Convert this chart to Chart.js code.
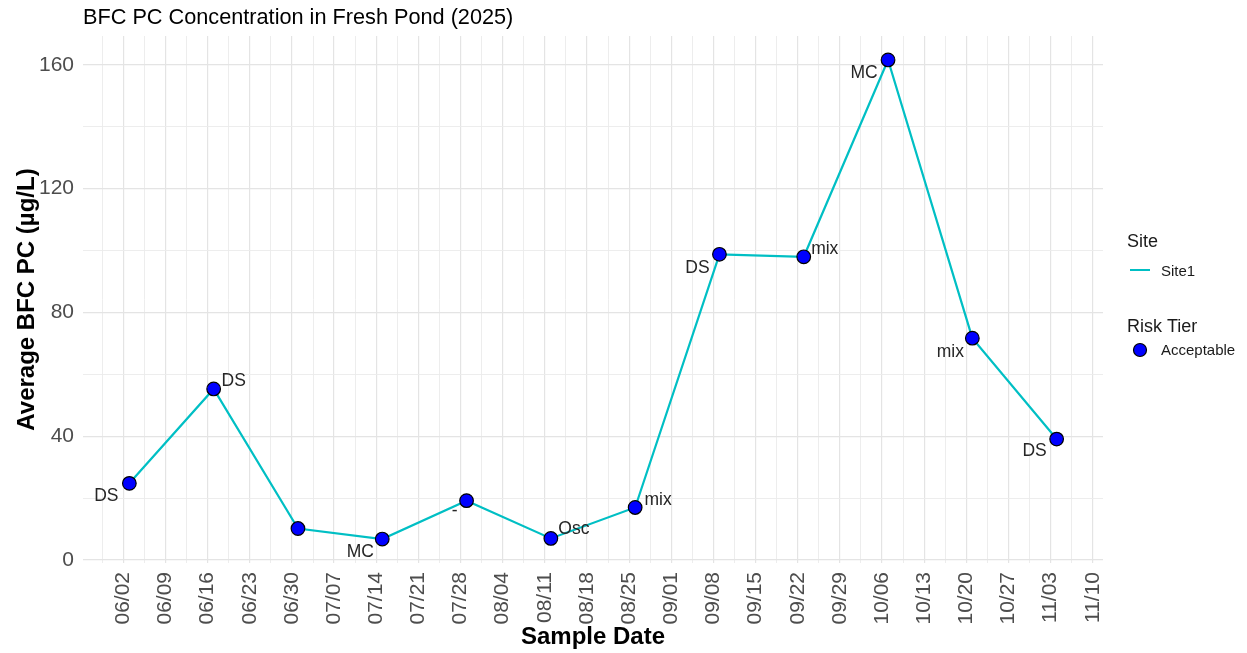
<!DOCTYPE html>
<html>
<head>
<meta charset="utf-8">
<title>BFC PC Concentration in Fresh Pond (2025)</title>
<script src="https://cdn.jsdelivr.net/npm/chart.js@4/dist/chart.umd.min.js"></script>
<style>
  html, body { margin: 0; padding: 0; background: #ffffff; }
  #wrap { width: 1247px; height: 653px; }
</style>
</head>
<body>
<div id="wrap"><canvas id="chart" width="1247" height="653"></canvas></div>
<script>
// sample data
const sampleDates = ['2025-06-03', '2025-06-17', '2025-07-01', '2025-07-15', '2025-07-29', '2025-08-12',
  '2025-08-26', '2025-09-09', '2025-09-23', '2025-10-07', '2025-10-21', '2025-11-04'];
const avgBfcPc = [24.8, 55.3, 10.2, 6.8, 19.2, 7.0, 17.0, 98.8, 98.0, 161.6, 71.7, 39.1];
const genusLabels = ['DS', 'DS', '', 'MC', '-', 'Osc', 'mix', 'DS', 'mix', 'MC', 'mix', 'DS'];
const riskTier = ['Acceptable', 'Acceptable', 'Acceptable', 'Acceptable', 'Acceptable', 'Acceptable',
  'Acceptable', 'Acceptable', 'Acceptable', 'Acceptable', 'Acceptable', 'Acceptable'];
const siteName = 'Site1';

// axis ticks
const xTickLabels = ['06/02', '06/09', '06/16', '06/23', '06/30', '07/07', '07/14', '07/21', '07/28', '08/04',
  '08/11', '08/18', '08/25', '09/01', '09/08', '09/15', '09/22', '09/29', '10/06', '10/13', '10/20', '10/27',
  '11/03', '11/10'];
const yTicks = [0, 40, 80, 120, 160];

// label placement (like ggrepel put them), in pixels from the point
const labelOffsets = [[-23, 13], [20, -8], [0, 0], [-22, 13], [-12, 11], [23, -9],
  [23, -7], [-22, 14], [21, -8], [-24, 13], [-22, 14], [-22, 12]];

const DAY = 86400000;
const baseDay = Date.UTC(2025, 5, 2);
const toDay = (iso) => {
  const [y, m, d] = iso.split('-').map(Number);
  return (Date.UTC(y, m - 1, d) - baseDay) / DAY;
};
const labelToDay = (lbl) => toDay('2025-' + lbl.replace('/', '-'));
const fmtDay = (n) => {
  const dt = new Date(baseDay + Math.round(n) * DAY);
  return String(dt.getUTCMonth() + 1).padStart(2, '0') + '/' + String(dt.getUTCDate()).padStart(2, '0');
};

const points = sampleDates.map((d, i) => ({ x: toDay(d), y: avgBfcPc[i] }));
const xMajor = xTickLabels.map(labelToDay);

// ggplot-like 5% expansion around the data
const xs = points.map(p => p.x), ys = points.map(p => p.y);
const xPad = (Math.max(...xs) - Math.min(...xs)) * 0.05;
const yPad = (Math.max(...ys) - Math.min(...ys)) * 0.05;
const xMin = Math.min(...xs) - xPad, xMax = Math.max(...xs) + xPad;
const yMin = Math.min(...ys) - yPad, yMax = Math.max(...ys) + yPad;

// minor breaks halfway between majors (and one step outside each end)
const withMinors = (major, lo, hi) => {
  const step = major[1] - major[0];
  const all = [];
  all.push(major[0] - step / 2);
  major.forEach((v, i) => {
    all.push(v);
    all.push(i < major.length - 1 ? (v + major[i + 1]) / 2 : v + step / 2);
  });
  return all.filter(v => v >= lo && v <= hi);
};
const xAllTicks = withMinors(xMajor, xMin, xMax);
const yAllTicks = withMinors(yTicks, yMin, yMax);

const TEAL = '#00BFC4';
const GRID_MAJOR = '#e4e4e4';
const GRID_MINOR = '#ebebeb';
const FONT = "'Liberation Sans', Arial, sans-serif";

const titlePlugin = {
  id: 'plotTitle',
  afterDraw(chart) {
    const c = chart.ctx;
    c.save();
    c.font = '21.7px ' + FONT;
    c.fillStyle = '#000000';
    c.textAlign = 'left';
    c.textBaseline = 'middle';
    c.fillText('BFC PC Concentration in Fresh Pond (2025)', chart.chartArea.left, 18);
    c.restore();
  }
};

// text labels next to each point
const pointLabels = {
  id: 'pointLabels',
  afterDatasetsDraw(chart) {
    const meta = chart.getDatasetMeta(1);
    const c = chart.ctx;
    c.save();
    c.font = '17.5px ' + FONT;
    c.fillStyle = '#262626';
    c.textAlign = 'center';
    c.textBaseline = 'middle';
    meta.data.forEach((el, i) => {
      if (!genusLabels[i]) return;
      c.fillText(genusLabels[i], el.x + labelOffsets[i][0], el.y + labelOffsets[i][1]);
    });
    c.restore();
  }
};

// two legend groups on the right, like ggplot
const sideLegend = {
  id: 'sideLegend',
  afterDraw(chart) {
    const c = chart.ctx;
    const x0 = chart.chartArea.right + 24;
    c.save();
    c.textAlign = 'left';
    c.textBaseline = 'middle';
    c.fillStyle = '#1a1a1a';
    c.font = '18px ' + FONT;
    c.fillText('Site', x0, 242);
    c.fillText('Risk Tier', x0, 327);

    c.strokeStyle = TEAL;
    c.lineWidth = 2;
    c.beginPath();
    c.moveTo(x0 + 3, 270);
    c.lineTo(x0 + 23, 270);
    c.stroke();

    c.beginPath();
    c.arc(x0 + 13, 350, 6.5, 0, Math.PI * 2);
    c.fillStyle = '#0000FF';
    c.fill();
    c.lineWidth = 1.2;
    c.strokeStyle = '#000000';
    c.stroke();

    c.fillStyle = '#1a1a1a';
    c.font = '15px ' + FONT;
    c.fillText(siteName, x0 + 34, 272);
    c.fillText(riskTier[0], x0 + 34, 351);
    c.restore();
  }
};

const isMajor = (list, v) => list.some(m => Math.abs(m - v) < 1e-6);

new Chart(document.getElementById('chart'), {
  type: 'line',
  data: {
    datasets: [
      {
        label: siteName,
        data: points,
        borderColor: TEAL,
        borderWidth: 2.2,
        pointRadius: 0,
        tension: 0,
        order: 2
      },
      {
        label: riskTier[0],
        data: points,
        showLine: false,
        pointRadius: 6.8,
        pointHoverRadius: 6.8,
        pointBackgroundColor: '#0000FF',
        pointBorderColor: '#000000',
        pointBorderWidth: 1.2,
        clip: false,
        order: 1
      }
    ]
  },
  options: {
    responsive: false,
    animation: false,
    events: [],
    layout: { padding: { top: 36, right: 144, left: 0, bottom: 0 } },
    plugins: {
      legend: { display: false },
      tooltip: { enabled: false }
    },
    scales: {
      x: {
        type: 'linear',
        min: xMin,
        max: xMax,
        afterBuildTicks: (scale) => { scale.ticks = xAllTicks.map(v => ({ value: v })); },
        afterFit: (scale) => { scale.height = 90; },
        ticks: {
          autoSkip: false,
          minRotation: 90,
          maxRotation: 90,
          padding: 9,
          color: '#4d4d4d',
          font: { family: FONT, size: 21 },
          callback: (v) => isMajor(xMajor, v) ? fmtDay(v) : ''
        },
        grid: {
          drawTicks: false,
          color: (ctx) => isMajor(xMajor, ctx.tick.value) ? GRID_MAJOR : GRID_MINOR,
          lineWidth: (ctx) => isMajor(xMajor, ctx.tick.value) ? 1.2 : 0.9
        },
        border: { display: false },
        title: {
          display: true,
          text: 'Sample Date',
          color: '#000000',
          font: { family: FONT, size: 24, weight: 'bold' },
          padding: { top: 0, bottom: 1 }
        }
      },
      y: {
        type: 'linear',
        min: yMin,
        max: yMax,
        afterBuildTicks: (scale) => { scale.ticks = yAllTicks.map(v => ({ value: v })); },
        afterFit: (scale) => { scale.width = 83; },
        ticks: {
          padding: 9,
          color: '#4d4d4d',
          font: { family: FONT, size: 21 },
          callback: (v) => isMajor(yTicks, v) ? String(v) : ''
        },
        grid: {
          drawTicks: false,
          color: (ctx) => isMajor(yTicks, ctx.tick.value) ? GRID_MAJOR : GRID_MINOR,
          lineWidth: (ctx) => isMajor(yTicks, ctx.tick.value) ? 1.2 : 0.9
        },
        border: { display: false },
        title: {
          display: true,
          text: 'Average BFC PC (µg/L)',
          color: '#000000',
          font: { family: FONT, size: 24, weight: 'bold' },
          padding: { top: 13, bottom: 0 }
        }
      }
    }
  },
  plugins: [titlePlugin, pointLabels, sideLegend]
});
</script>
</body>
</html>
